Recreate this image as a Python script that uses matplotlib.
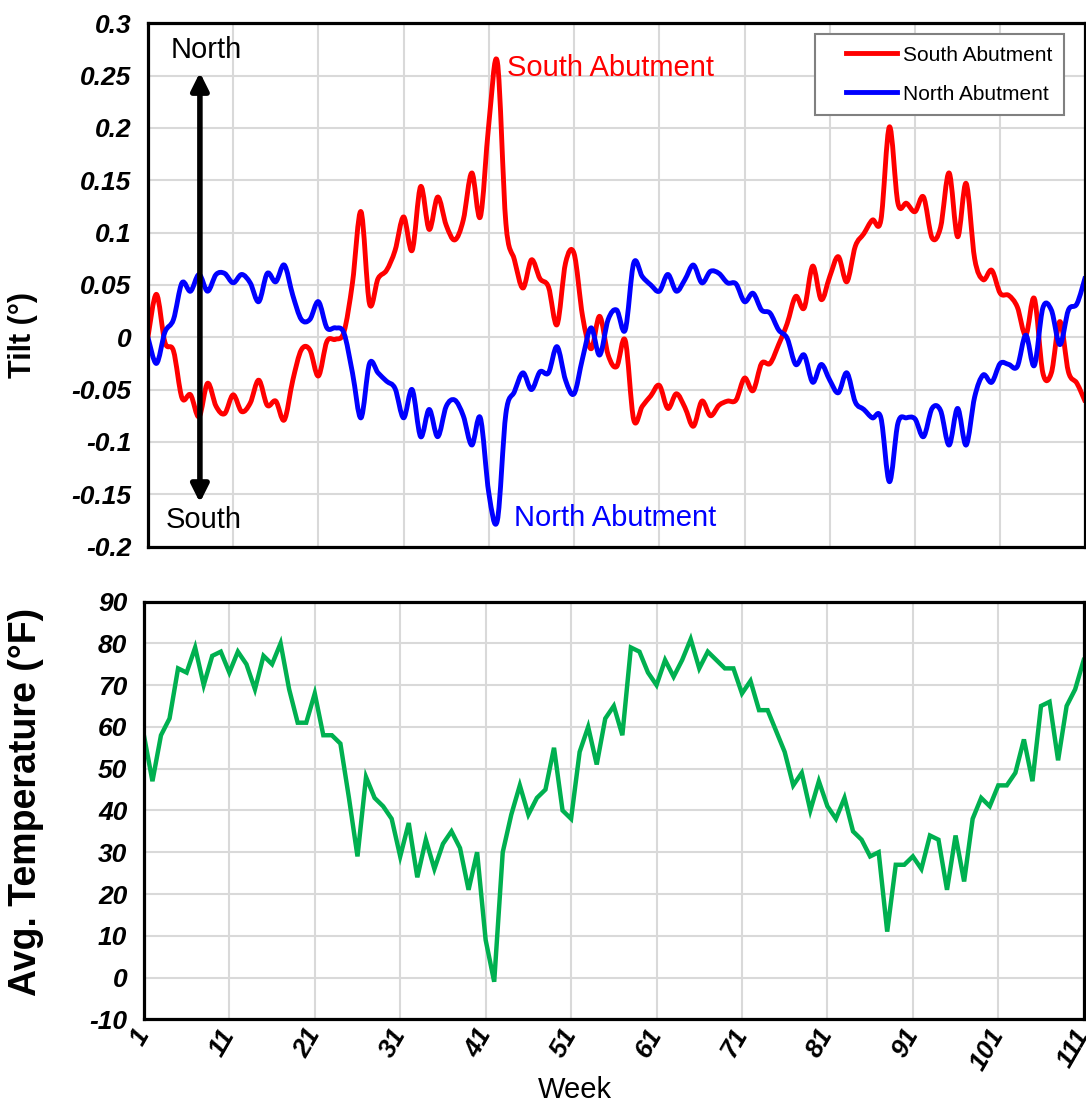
import numpy as np
import matplotlib
matplotlib.use('Agg')
import matplotlib.pyplot as plt
from matplotlib.path import Path
from matplotlib.patches import PathPatch
from matplotlib.lines import Line2D
from matplotlib.legend_handler import HandlerLine2D

plt.rcParams['font.family'] = ['Liberation Sans', 'DejaVu Sans']
plt.rcParams['axes.unicode_minus'] = False

weeks = np.arange(1, 112)

# 주별 기울기 (deg)
south_tilt = [
    0.000, 0.041, -0.005, -0.013, -0.058, -0.055, -0.076, -0.044, -0.066, -0.073,
    -0.055, -0.071, -0.063, -0.041, -0.065, -0.061, -0.079, -0.041, -0.012, -0.012,
    -0.037, -0.004, -0.002, 0.005, 0.052, 0.120, 0.032, 0.056, 0.064, 0.083,
    0.115, 0.083, 0.144, 0.103, 0.134, 0.107, 0.093, 0.112, 0.157, 0.115,
    0.204, 0.263, 0.109, 0.074, 0.047, 0.074, 0.056, 0.048, 0.012, 0.071,
    0.080, 0.020, -0.011, 0.020, -0.017, -0.028, -0.003, -0.079, -0.066, -0.056,
    -0.046, -0.068, -0.054, -0.067, -0.085, -0.061, -0.075, -0.065, -0.061, -0.060,
    -0.039, -0.051, -0.025, -0.025, -0.007, 0.013, 0.039, 0.028, 0.068, 0.036,
    0.058, 0.077, 0.053, 0.087, 0.099, 0.112, 0.112, 0.201, 0.128, 0.128,
    0.120, 0.134, 0.095, 0.105, 0.157, 0.096, 0.147, 0.075, 0.055, 0.064,
    0.042, 0.040, 0.029, 0.002, 0.037, -0.034, -0.034, 0.015, -0.033, -0.044,
    -0.062,
]
north_tilt = [
    0.000, -0.025, 0.005, 0.017, 0.052, 0.044, 0.060, 0.044, 0.060, 0.061,
    0.052, 0.060, 0.052, 0.034, 0.061, 0.053, 0.069, 0.040, 0.017, 0.017,
    0.034, 0.009, 0.009, 0.004, -0.034, -0.077, -0.025, -0.034, -0.042, -0.049,
    -0.077, -0.050, -0.095, -0.069, -0.095, -0.066, -0.060, -0.075, -0.103, -0.077,
    -0.149, -0.175, -0.073, -0.052, -0.034, -0.050, -0.033, -0.034, -0.009, -0.041,
    -0.054, -0.020, 0.009, -0.017, 0.017, 0.026, 0.007, 0.071, 0.058, 0.050,
    0.044, 0.060, 0.044, 0.055, 0.069, 0.052, 0.063, 0.061, 0.052, 0.051,
    0.034, 0.042, 0.026, 0.023, 0.007, -0.001, -0.026, -0.017, -0.043, -0.026,
    -0.041, -0.053, -0.034, -0.062, -0.069, -0.077, -0.077, -0.138, -0.082, -0.077,
    -0.078, -0.095, -0.068, -0.070, -0.103, -0.068, -0.103, -0.057, -0.036, -0.043,
    -0.025, -0.026, -0.028, 0.002, -0.027, 0.028, 0.026, -0.007, 0.026, 0.032,
    0.058,
]

# 주별 평균 기온 (F)
avg_temp = [
    58, 47, 58, 62, 74, 73, 79, 70, 77, 78,
    73, 78, 75, 69, 77, 75, 80, 69, 61, 61,
    68, 58, 58, 56, 43, 29, 48, 43, 41, 38,
    29, 37, 24, 33, 26, 32, 35, 31, 21, 30,
    9, -1, 30, 39, 46, 39, 43, 45, 55, 40,
    38, 54, 60, 51, 62, 65, 58, 79, 78, 73,
    70, 76, 72, 76, 81, 74, 78, 76, 74, 74,
    68, 71, 64, 64, 59, 54, 46, 49, 40, 47,
    41, 38, 43, 35, 33, 29, 30, 11, 27, 27,
    29, 26, 34, 33, 21, 34, 23, 38, 43, 41,
    46, 46, 49, 57, 47, 65, 66, 52, 65, 69,
    76,
]

tilt_ticks = [-0.2, -0.15, -0.1, -0.05, 0, 0.05, 0.1, 0.15, 0.2, 0.25, 0.3]
temp_ticks = [-10, 0, 10, 20, 30, 40, 50, 60, 70, 80, 90]
week_ticks = [1, 11, 21, 31, 41, 51, 61, 71, 81, 91, 101, 111]


def smooth_path(x, y):
    # 엑셀 스무딩처럼 베지어 곡선으로 연결
    pts = np.column_stack([x, y]).astype(float)
    ext = np.vstack([pts[0], pts, pts[-1]])
    verts = [pts[0]]
    codes = [Path.MOVETO]
    for i in range(len(pts) - 1):
        p0, p1, p2, p3 = ext[i], ext[i + 1], ext[i + 2], ext[i + 3]
        verts += [p1 + (p2 - p0) / 6, p2 - (p3 - p1) / 6, p2]
        codes += [Path.CURVE4] * 3
    return Path(verts, codes)


class PaddedLine(HandlerLine2D):
    # 범례 선 앞에 여백을 둠
    def create_artists(self, legend, orig_handle, xdescent, ydescent,
                       width, height, fontsize, trans):
        pad = 0.95 * fontsize
        return super().create_artists(legend, orig_handle, xdescent - pad,
                                      ydescent, width - pad, height,
                                      fontsize, trans)


def style_axes(ax):
    ax.grid(True, color='#d9d9d9', lw=1.5)
    ax.set_axisbelow(True)
    for s in ax.spines.values():
        s.set_linewidth(2.3)
        s.set_color('black')
    ax.tick_params(length=0, pad=12)
    for lab in ax.get_yticklabels():
        lab.set_fontweight('bold')
        lab.set_fontstyle('italic')
        lab.set_fontsize(19)


fig = plt.figure(figsize=(10.86, 11.08), dpi=100)

# 기울기 그래프
ax1 = fig.add_axes([0.1362, 0.5067, 0.8633, 0.4723])
ax1.set_xlim(1, 111)
ax1.set_ylim(-0.2, 0.3)
ax1.set_xticks(week_ticks)
ax1.set_xticklabels([])
ax1.set_yticks(tilt_ticks)
ax1.set_yticklabels([f'{t:g}' for t in tilt_ticks])
ax1.add_patch(PathPatch(smooth_path(weeks, south_tilt), fill=False,
                        edgecolor='#ff0000', lw=3.5, joinstyle='round'))
ax1.add_patch(PathPatch(smooth_path(weeks, north_tilt), fill=False,
                        edgecolor='#0000ff', lw=3.5, joinstyle='round'))
style_axes(ax1)
ax1.set_ylabel('Tilt (°)', fontsize=22, fontweight='bold')
ax1.yaxis.set_label_coords(-0.117, 0.404)

ax1.annotate('', xy=(7.1, 0.253), xytext=(7.1, -0.158),
             arrowprops=dict(arrowstyle='<|-|>', lw=4, color='black',
                             mutation_scale=26, shrinkA=0, shrinkB=0))
ax1.text(7.8, 0.2745, 'North', fontsize=21, ha='center', va='center')
ax1.text(7.5, -0.1745, 'South', fontsize=21, ha='center', va='center')
ax1.text(43.1, 0.257, 'South Abutment', fontsize=21, color='#ff0000',
         ha='left', va='center')
ax1.text(44.0, -0.1725, 'North Abutment', fontsize=21, color='#0000ff',
         ha='left', va='center')

handles = [Line2D([], [], color='#ff0000', lw=3.5, label='South Abutment'),
           Line2D([], [], color='#0000ff', lw=3.5, label='North Abutment')]
leg = ax1.legend(handles=handles, loc='upper right', bbox_to_anchor=(0.977, 0.979),
                 borderaxespad=0, fontsize=15, fancybox=False, framealpha=1,
                 edgecolor='#808080', handlelength=3.4, handletextpad=0.3,
                 labelspacing=0.95, borderpad=0.55,
                 handler_map={Line2D: PaddedLine()})
leg.get_frame().set_linewidth(1.5)

# 평균 기온 그래프
ax2 = fig.add_axes([0.1325, 0.0800, 0.8654, 0.3771])
ax2.plot(weeks, avg_temp, color='#00b050', lw=3.2, solid_joinstyle='miter')
ax2.set_xlim(1, 111)
ax2.set_ylim(-10, 90)
ax2.set_xticks(week_ticks)
ax2.set_xticklabels([str(w) for w in week_ticks], rotation=60, ha='right',
                    va='center', rotation_mode='anchor', fontsize=19,
                    fontweight='bold', fontstyle='italic')
ax2.set_yticks(temp_ticks)
style_axes(ax2)
ax2.tick_params(axis='x', pad=8)
ax2.set_ylabel('Avg. Temperature (°F)', fontsize=27, fontweight='bold')
ax2.yaxis.set_label_coords(-0.106, 0.52)
ax2.set_xlabel('Week', fontsize=21)
ax2.xaxis.set_label_coords(0.459, -0.169)
ax2.xaxis.label.set_va('center')

fig.savefig('out.png', dpi=100)
